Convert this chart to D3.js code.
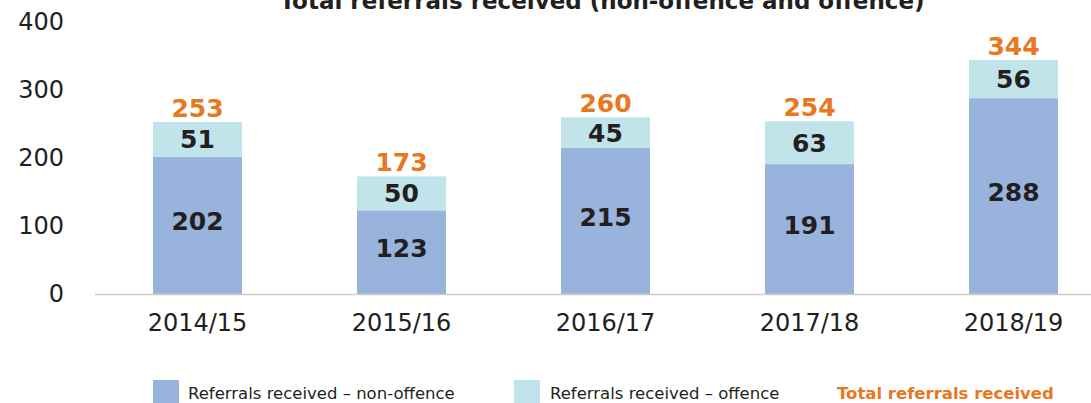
<!DOCTYPE html>
<html>
<head>
<meta charset="utf-8">
<script src="https://cdn.jsdelivr.net/npm/d3@7"></script>
<style>
  body { margin: 0; background: #fff; }
  svg text { font-family: "DejaVu Sans", sans-serif; }
</style>
</head>
<body>
<div id="chart"></div>
<script>
// chart data
const years = ["2014/15", "2015/16", "2016/17", "2017/18", "2018/19"];
const nonOffence = [202, 123, 215, 191, 288];
const offence = [51, 50, 45, 63, 56];
const totals = [253, 173, 260, 254, 344];
const yTicks = [0, 100, 200, 300, 400];

const width = 1091, height = 403;
const colNon = "#98b4dc", colOff = "#c0e4ea", orange = "#e87722", ink = "#231f20";
const font = "'DejaVu Sans', sans-serif";

const svg = d3.select("#chart")
  .append("svg")
  .attr("width", width)
  .attr("height", height);

let xScale = d3.scaleBand()
  .domain(years)
  .range([95.5, 1115.5])
  .paddingInner(0.564)
  .paddingOuter(0.282);

let yScale = d3.scaleLinear()
  .domain([0, 400])
  .range([294, 22]);

// title (cut off at the top in the original)
svg.append("text")
  .attr("x", 602)
  .attr("y", 9)
  .attr("text-anchor", "middle")
  .attr("font-size", "23px")
  .attr("font-weight", "bold")
  .attr("fill", ink)
  .text("Total referrals received (non-offence and offence)");

// y axis labels, no line
const yAxis = svg.append("g")
  .attr("transform", "translate(64,0)")
  .call(d3.axisLeft(yScale).tickValues(yTicks).tickSize(0).tickPadding(0));
yAxis.select(".domain").remove();
yAxis.selectAll("text")
  .attr("font-size", "24px")
  .attr("fill", ink)
  .style("font-family", font);

// stacked bars
const g = svg.append("g");
g.selectAll("rect.non")
  .data(years)
  .enter()
  .append("rect")
    .attr("class", "non")
    .attr("x", d => xScale(d))
    .attr("width", xScale.bandwidth())
    .attr("y", (d, i) => yScale(nonOffence[i]))
    .attr("height", (d, i) => yScale(0) - yScale(nonOffence[i]))
    .attr("fill", colNon);

g.selectAll("rect.off")
  .data(years)
  .enter()
  .append("rect")
    .attr("class", "off")
    .attr("x", d => xScale(d))
    .attr("width", xScale.bandwidth())
    .attr("y", (d, i) => yScale(nonOffence[i] + offence[i]))
    .attr("height", (d, i) => yScale(nonOffence[i]) - yScale(nonOffence[i] + offence[i]))
    .attr("fill", colOff);

// x axis
const xAxis = svg.append("g")
  .attr("transform", "translate(0,294)")
  .call(d3.axisBottom(xScale).tickSize(0).tickPadding(20));
xAxis.select(".domain")
  .attr("d", "M95,0.5H1091")
  .attr("stroke", "#cccccc")
  .attr("stroke-width", 1.5);
xAxis.selectAll("text")
  .attr("font-size", "24px")
  .attr("fill", ink)
  .style("font-family", font);

// value labels
const mid = d => xScale(d) + xScale.bandwidth() / 2;

g.selectAll("text.nonlab")
  .data(years)
  .enter()
  .append("text")
    .attr("x", mid)
    .attr("y", (d, i) => yScale(nonOffence[i] / 2))
    .attr("dy", "0.2em")
    .attr("text-anchor", "middle")
    .attr("font-size", "25px")
    .attr("font-weight", "bold")
    .attr("fill", ink)
    .text((d, i) => nonOffence[i]);

g.selectAll("text.offlab")
  .data(years)
  .enter()
  .append("text")
    .attr("x", mid)
    .attr("y", (d, i) => yScale(nonOffence[i] + offence[i] / 2))
    .attr("dy", "0.36em")
    .attr("text-anchor", "middle")
    .attr("font-size", "25px")
    .attr("font-weight", "bold")
    .attr("fill", ink)
    .text((d, i) => offence[i]);

g.selectAll("text.total")
  .data(years)
  .enter()
  .append("text")
    .attr("x", mid)
    .attr("y", (d, i) => yScale(totals[i]) - 5)
    .attr("text-anchor", "middle")
    .attr("font-size", "25px")
    .attr("font-weight", "bold")
    .attr("fill", orange)
    .text((d, i) => totals[i]);

// legend
const legend = svg.append("g");
legend.append("rect").attr("x", 153).attr("y", 380).attr("width", 26).attr("height", 26).attr("fill", colNon);
legend.append("text").attr("x", 188).attr("y", 399).attr("font-size", "16.5px").attr("fill", ink)
  .text("Referrals received – non-offence");
legend.append("rect").attr("x", 514).attr("y", 380).attr("width", 26).attr("height", 26).attr("fill", colOff);
legend.append("text").attr("x", 550).attr("y", 399).attr("font-size", "16.5px").attr("fill", ink)
  .text("Referrals received – offence");
legend.append("text").attr("x", 837).attr("y", 399).attr("font-size", "16.5px").attr("font-weight", "bold").attr("fill", orange)
  .text("Total referrals received");
</script>
</body>
</html>
